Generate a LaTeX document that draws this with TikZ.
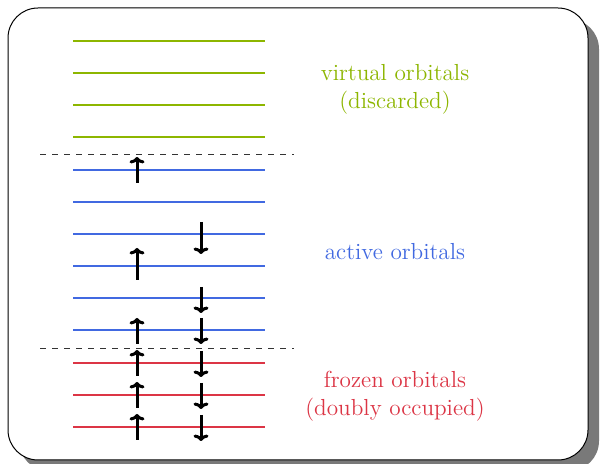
\documentclass[tikz,border=0pt]{standalone}
\usetikzlibrary{arrows.meta}
\definecolor{virtcol}{RGB}{141,182,0}
\definecolor{actcol}{RGB}{65,105,225}
\definecolor{frzcol}{RGB}{220,53,69}
\tikzset{
  level/.style={line width=1.2pt},
  virtlvl/.style={level, draw=virtcol},
  actlvl/.style={level, draw=actcol},
  frzlvl/.style={level, draw=frzcol},
  spin/.style={line width=1.5pt, -{To[length=3.2pt,width=7.5pt]}},
  sep/.style={dashed, line width=0.4pt, draw=black!80},
  lbl/.style={align=center, font=\fontsize{11.6pt}{14pt}\selectfont}
}
\begin{document}
\begin{tikzpicture}[x=0.5pt,y=-0.5pt]
\useasboundingbox (0,0) rectangle (600,464);
% framed panel with a drop shadow
\fill[gray!95!black, rounded corners=15pt] (19,19) rectangle (599,471);
\draw[fill=white, line width=0.5pt, rounded corners=15pt] (8,8) rectangle (588,460);

% virtual levels
\foreach \y [count=\i] in {41,73,105,137}
  \draw[virtlvl] (73,\y) coordinate (v\i l) -- (265,\y) coordinate (v\i r);
% active levels
\foreach \y [count=\i] in {170,202,234,266,298,330}
  \draw[actlvl] (73,\y) coordinate (a\i l) -- (265,\y) coordinate (a\i r);
% frozen levels
\foreach \y [count=\i] in {363,395,427}
  \draw[frzlvl] (73,\y) coordinate (f\i l) -- (265,\y) coordinate (f\i r);

% separators between the orbital spaces
\coordinate (s1l) at (40,154); \coordinate (s1r) at (294,154);
\coordinate (s2l) at (40,348); \coordinate (s2r) at (294,348);
\draw[sep] (s1l) -- (s1r);
\draw[sep] (s2l) -- (s2r);

% electrons in the active space
\draw[spin] (137,183) -- (137,157);
\draw[spin] (201,222) -- (201,254);
\draw[spin] (137,280) -- (137,248);
\draw[spin] (201,287) -- (201,313);
\draw[spin] (137,344) -- (137,318);
\draw[spin] (201,318) -- (201,344);
% doubly occupied frozen orbitals
\foreach \y in {363,395,427}{
  \draw[spin] (137,\y+13) -- (137,\y-13);
  \draw[spin] (201,\y-12) -- (201,\y+14);
}

% labels
\node[lbl, text=virtcol] (tv) at (395,89) {virtual orbitals\\(discarded)};
\node[lbl, text=actcol] (ta) at (395,252) {active orbitals};
\node[lbl, text=frzcol] (tf) at (395,396) {frozen orbitals\\(doubly occupied)};
\end{tikzpicture}
\end{document}
